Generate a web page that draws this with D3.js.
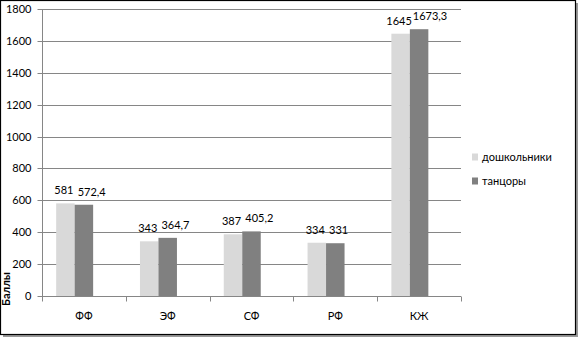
<!DOCTYPE html>
<html><head><meta charset="utf-8">
<script src="https://cdn.jsdelivr.net/npm/d3@7"></script>
<style>body{margin:0;background:#fff}svg{display:block}text{font-family:Lato,"Open Sans",sans-serif}</style>
</head><body>
<script>
const categories = ["ФФ","ЭФ","СФ","РФ","КЖ"];
const seriesNames = ["дошкольники","танцоры"];
const preschool = [581,343,387,334,1645];
const dancers = [572.4,364.7,405.2,331,1673.3];
const preschoolLabels = ["581","343","387","334","1645"];
const dancersLabels = ["572,4","364,7","405,2","331","1673,3"];
const yTicks = [0,200,400,600,800,1000,1200,1400,1600,1800];
const colors = ["#d9d9d9","#808080"];

const W=578,H=338;
const svg=d3.select("body").append("svg").attr("width",W).attr("height",H);
// border with shadow
svg.append("path").attr("d","M3,336H577V3").attr("fill","none").attr("stroke","#999").attr("stroke-width",2);
svg.append("rect").attr("x",0.5).attr("y",0.5).attr("width",575).attr("height",334).attr("fill","#fff").attr("stroke","#000").attr("stroke-width",1.2);

const pL=42,pR=461,pT=9,pB=296;
const x0=d3.scaleBand().domain(categories).range([pL,pR]).paddingInner(0.338).paddingOuter(0.169);
// three slots per group (third slot empty, as in the source chart)
const x1=d3.scaleBand().domain([0,1,2]).range([0,x0.bandwidth()]);
const y=d3.scaleLinear().domain([0,1800]).range([pB,pT]);

// gridlines
svg.append("g").selectAll("line").data(yTicks.filter(d=>d>0)).join("line")
 .attr("x1",pL).attr("x2",pR).attr("y1",d=>Math.round(y(d))+0.5).attr("y2",d=>Math.round(y(d))+0.5)
 .attr("stroke","#868686").attr("stroke-width",1);

// y axis
const ya=svg.append("g").attr("transform",`translate(${pL+0.5},0)`)
 .call(d3.axisLeft(y).tickValues(yTicks).tickFormat(d3.format("d")).tickSize(5).tickPadding(6));
ya.select(".domain").attr("stroke","#868686").attr("d",`M0,${pT}V${pB}`);
ya.selectAll(".tick line").attr("stroke","#868686");
ya.selectAll(".tick").attr("transform",d=>`translate(0,${Math.round(y(d))+0.5})`);
ya.selectAll("text").attr("font-size",11).attr("fill","#000").attr("font-family","Lato,'Open Sans',sans-serif");

// x axis
const xa=svg.append("g").attr("transform",`translate(0,${pB+0.5})`);
xa.append("line").attr("x1",pL).attr("x2",pR).attr("stroke","#868686");
const step=x0.step();
xa.selectAll(".tk").data(d3.range(categories.length+1)).join("line")
 .attr("x1",i=>Math.round(pL+i*step)+0.5).attr("x2",i=>Math.round(pL+i*step)+0.5)
 .attr("y1",0).attr("y2",5).attr("stroke","#868686");
xa.selectAll(".cl").data(categories).join("text")
 .attr("x",d=>x0(d)+x0.bandwidth()/2)
 .attr("y",23).attr("text-anchor","middle").attr("font-size",11).attr("fill","#000").text(d=>d);

// bars
const series=[preschool,dancers];
const labels=[preschoolLabels,dancersLabels];
series.forEach((vals,s)=>{
  svg.append("g").selectAll("rect").data(vals).join("rect")
   .attr("x",(d,i)=>x0(categories[i])+x1(s))
   .attr("width",x1.bandwidth())
   .attr("y",d=>y(d)).attr("height",d=>pB-y(d))
   .attr("fill",colors[s]);
  svg.append("g").selectAll("text").data(vals).join("text")
   .attr("x",(d,i)=> s===0 ? x0(categories[i])+x1(s)+x1.bandwidth()/2-1.5 : x0(categories[i])+x1(s)+3)
   .attr("y",d=>y(d)-9)
   .attr("text-anchor",s===0?"middle":"start")
   .attr("font-size",11).attr("fill","#000")
   .text((d,i)=>labels[s][i]);
});

// y title
svg.append("text").attr("transform","translate(10,289) rotate(-90)")
 .attr("text-anchor","middle").attr("font-size",11).attr("font-weight","bold").text("Баллы");

// legend
const lg=svg.append("g").attr("transform","translate(472,0)");
seriesNames.forEach((n,i)=>{
  const cy=157+i*24;
  lg.append("rect").attr("x",0).attr("y",cy-3.5).attr("width",6).attr("height",7).attr("fill",colors[i]);
  lg.append("text").attr("x",10).attr("y",cy+4).attr("font-size",11).attr("fill","#000").text(n);
});
</script>
</body></html>
